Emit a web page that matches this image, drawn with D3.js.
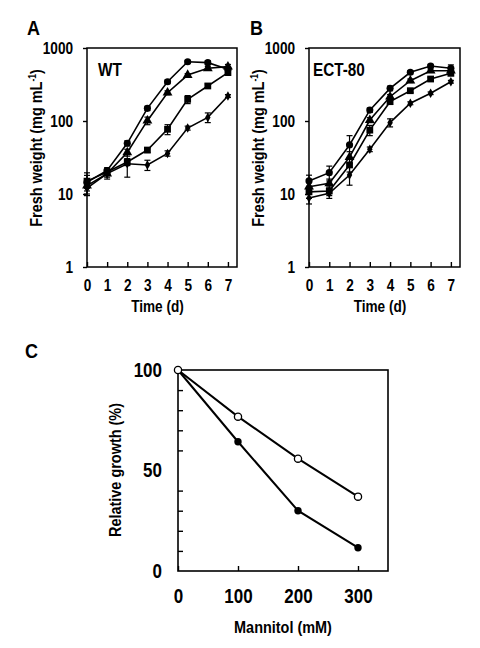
<!DOCTYPE html>
<html><head><meta charset="utf-8">
<script src="https://cdn.jsdelivr.net/npm/d3@7"></script>
<style>body{margin:0;background:#fff}svg{display:block}</style>
</head><body><svg id="c" width="480" height="648"></svg>
<script>
// ---------- data ----------
const days = [0, 1, 2, 3, 4, 5, 6, 7];
const logTicks = [1, 10, 100, 1000];

// Panel A (WT) fresh weight, mg/mL
const wtCircle = [14.5, 21, 49.5, 149, 345, 649, 630, 510];
const wtCircleErr = [5, 2, 4, 10, 20, 30, 40, 40];
const wtTriangle = [13, 19, 37, 101, 244, 426, 527, 555];
const wtTriangleErr = [2, 2, 4, 12, 15, 20, 30, 40];
const wtSquare = [15, 20, 27.5, 40, 77, 198, 302, 460];
const wtSquareErr = [3, 2, 3, 3, 12, 25, 20, 30];
const wtDiamond = [12, 19, 26, 25, 36, 80, 112, 220];
const wtDiamondErr = [2, 3, 9, 4, 3, 5, 17, 10];

// Panel B (ECT-80)
const ectCircle = [15.1, 19.6, 47, 141, 280, 465, 567, 527];
const ectCircleErr = [3, 4.5, 16, 10, 20, 25, 30, 60];
const ectTriangle = [12.6, 14, 32, 103, 215, 356, 489, 489];
const ectTriangleErr = [2, 2, 6, 8, 15, 20, 25, 30];
const ectSquare = [10.7, 11, 25, 75, 184, 260, 376, 450];
const ectSquareErr = [2, 1.5, 5, 12, 15, 15, 20, 30];
const ectDiamond = [8.8, 10.2, 18.2, 41, 95, 175, 240, 345];
const ectDiamondErr = [1.5, 1.5, 5, 3, 12, 8, 10, 15];

// Panel C relative growth (%)
const mannitol = [0, 100, 200, 300];
const growthOpen = [100, 76.8, 55.9, 37.0];
const growthFilled = [100, 64.3, 30.0, 11.6];
const cTickLabels = [0, 100, 200, 300];
const cYLabels = [0, 50, 100];
const cYMinor = [10, 20, 30, 40, 60, 70, 80, 90];

// ---------- helpers ----------
const svg = d3.select('#c');
const FONT = '"Liberation Sans", Arial, Helvetica, sans-serif';
const SX = 0.85;

function label(g, x, y, s, o = {}) {
  const t = g.append('text')
    .attr('transform', `translate(${x},${y}) rotate(${o.rot || 0}) scale(${o.sx || SX},1)`)
    .attr('text-anchor', o.anchor || 'middle')
    .attr('font-family', FONT).attr('font-weight', 'bold')
    .attr('font-size', o.size || 17).attr('fill', '#000');
  if (o.dy) t.attr('dy', o.dy);
  t.text(s);
  return t;
}

const sym = {
  circle: d3.symbol().type(d3.symbolCircle).size(40),
  triangle: d3.symbol().type(d3.symbolTriangle).size(42),
  square: d3.symbol().type(d3.symbolSquare).size(46),
  diamond: d3.symbol().type(d3.symbolDiamond).size(26)
};

function growthPanel(cfg) {
  const x = d3.scaleLinear().domain([0, 7.45]).range([cfg.x0, cfg.x1]);
  const y = d3.scaleLog().domain([1, 1000]).range([267, 48]);
  const g = svg.append('g');

  // x axis (inward ticks)
  const xa = g.append('g').attr('transform', 'translate(0,267)')
    .call(d3.axisBottom(x).tickValues(days).tickSize(-5).tickPadding(13).tickFormat(d3.format('d')));
  xa.select('.domain').remove();
  xa.selectAll('line').attr('stroke', '#000').attr('stroke-width', 1.4);
  xa.selectAll('text').attr('font-family', FONT).attr('font-weight', 'bold')
    .attr('font-size', 16).attr('fill', '#000').attr('transform', `scale(${SX},1)`);

  // y axis (outward ticks)
  const ya = g.append('g').attr('transform', `translate(${cfg.x0},0)`)
    .call(d3.axisLeft(y).tickValues(logTicks).tickSize(4).tickPadding(10).tickFormat(d3.format('d')));
  ya.select('.domain').remove();
  ya.selectAll('line').attr('stroke', '#000').attr('stroke-width', 1.4);
  ya.selectAll('text').attr('font-family', FONT).attr('font-weight', 'bold')
    .attr('font-size', 16).attr('fill', '#000')
    .attr('x', -14 / SX).attr('transform', `scale(${SX},1)`);

  // frame
  g.append('rect').attr('x', cfg.x0).attr('y', 48)
    .attr('width', cfg.x1 - cfg.x0).attr('height', 219)
    .attr('fill', 'none').attr('stroke', '#000').attr('stroke-width', 1.5);

  const line = d3.line().x((d, i) => x(days[i])).y(d => y(d));
  cfg.series.forEach(s => {
    g.append('path').datum(s.v).attr('d', line)
      .attr('fill', 'none').attr('stroke', '#000').attr('stroke-width', 1.6);
  });
  cfg.series.forEach(s => {
    s.v.forEach((v, i) => {
      const e = s.e[i];
      const xx = x(days[i]);
      const y1 = y(v + e), y2 = y(Math.max(v - e, 1.01));
      g.append('line').attr('x1', xx).attr('x2', xx).attr('y1', y1).attr('y2', y2)
        .attr('stroke', '#000').attr('stroke-width', 1.2);
      [y1, y2].forEach(yy => g.append('line').attr('x1', xx - 3).attr('x2', xx + 3)
        .attr('y1', yy).attr('y2', yy).attr('stroke', '#000').attr('stroke-width', 1.2));
    });
  });
  cfg.series.forEach(s => {
    g.selectAll(null).data(s.v).enter().append('path')
      .attr('d', sym[s.shape])
      .attr('transform', (d, i) => `translate(${x(days[i])},${y(d)})`)
      .attr('fill', '#000');
  });

  // labels
  label(g, cfg.letterX, 35, cfg.letter, { anchor: 'start', size: 20, sx: 0.9 });
  label(g, cfg.tagX, 76, cfg.tag, { anchor: 'start', size: 18 });
  label(g, x(3.5), 312, 'Time (d)', { size: 16 });
  const yt = g.append('text')
    .attr('transform', `translate(${cfg.ytX},148) rotate(-90) scale(${SX},1)`)
    .attr('text-anchor', 'middle').attr('dy', '0.35em')
    .attr('font-family', FONT).attr('font-weight', 'bold').attr('font-size', 17).attr('fill', '#000');
  yt.append('tspan').text('Fresh weight (mg mL');
  yt.append('tspan').text('-1').attr('font-size', 10).attr('dy', '-0.6em');
  yt.append('tspan').text(')').attr('dy', '0.35em');
}

growthPanel({
  x0: 87, x1: 237, letter: 'A', letterX: 27, tag: 'WT', tagX: 98, ytX: 36,
  series: [
    { v: wtCircle, e: wtCircleErr, shape: 'circle' },
    { v: wtTriangle, e: wtTriangleErr, shape: 'triangle' },
    { v: wtSquare, e: wtSquareErr, shape: 'square' },
    { v: wtDiamond, e: wtDiamondErr, shape: 'diamond' }
  ]
});
growthPanel({
  x0: 309, x1: 460, letter: 'B', letterX: 250, tag: 'ECT-80', tagX: 313, ytX: 258,
  series: [
    { v: ectCircle, e: ectCircleErr, shape: 'circle' },
    { v: ectTriangle, e: ectTriangleErr, shape: 'triangle' },
    { v: ectSquare, e: ectSquareErr, shape: 'square' },
    { v: ectDiamond, e: ectDiamondErr, shape: 'diamond' }
  ]
});

// ---------- Panel C ----------
(function () {
  const x = d3.scaleLinear().domain([0, 350]).range([178, 388]);
  const y = d3.scaleLinear().domain([0, 100]).range([571, 370]);
  const g = svg.append('g');

  const xa = g.append('g').attr('transform', 'translate(0,571)')
    .call(d3.axisBottom(x).tickValues(cTickLabels).tickSize(-5).tickPadding(18).tickFormat(d3.format('d')));
  xa.select('.domain').remove();
  xa.selectAll('line').attr('stroke', '#000').attr('stroke-width', 1.4);
  xa.selectAll('text').attr('font-family', FONT).attr('font-weight', 'bold')
    .attr('font-size', 20).attr('fill', '#000').attr('transform', `scale(${SX},1)`);

  const ya = g.append('g').attr('transform', 'translate(178,0)')
    .call(d3.axisLeft(y).tickValues(cYLabels).tickSize(0).tickPadding(16).tickFormat(d3.format('d')));
  ya.select('.domain').remove();
  ya.selectAll('text').attr('font-family', FONT).attr('font-weight', 'bold')
    .attr('font-size', 20).attr('fill', '#000')
    .attr('x', -16 / SX).attr('transform', `scale(${SX},1)`);

  const ym = g.append('g').attr('transform', 'translate(178,0)')
    .call(d3.axisRight(y).tickValues(cYMinor).tickSize(5).tickFormat(''));
  ym.select('.domain').remove();
  ym.selectAll('line').attr('stroke', '#000').attr('stroke-width', 1.4);

  g.append('rect').attr('x', 178).attr('y', 370).attr('width', 210).attr('height', 201)
    .attr('fill', 'none').attr('stroke', '#000').attr('stroke-width', 1.6);

  const line = d3.line().x((d, i) => x(mannitol[i])).y(d => y(d));
  [growthOpen, growthFilled].forEach(s => g.append('path').datum(s).attr('d', line)
    .attr('fill', 'none').attr('stroke', '#000').attr('stroke-width', 2));

  g.selectAll(null).data(growthFilled).enter().append('circle')
    .attr('cx', (d, i) => x(mannitol[i])).attr('cy', d => y(d)).attr('r', 3.7)
    .attr('fill', '#000');
  g.selectAll(null).data(growthOpen).enter().append('circle')
    .attr('cx', (d, i) => x(mannitol[i])).attr('cy', d => y(d)).attr('r', 3.6)
    .attr('fill', '#fff').attr('stroke', '#000').attr('stroke-width', 1.3);

  label(g, 25, 358, 'C', { anchor: 'start', size: 20, sx: 0.9 });
  label(g, x(175), 633, 'Mannitol (mM)', { size: 17 });
  label(g, 115, 470, 'Relative growth (%)', { size: 17, rot: -90, dy: '0.35em' });
})();
</script>
</body></html>
